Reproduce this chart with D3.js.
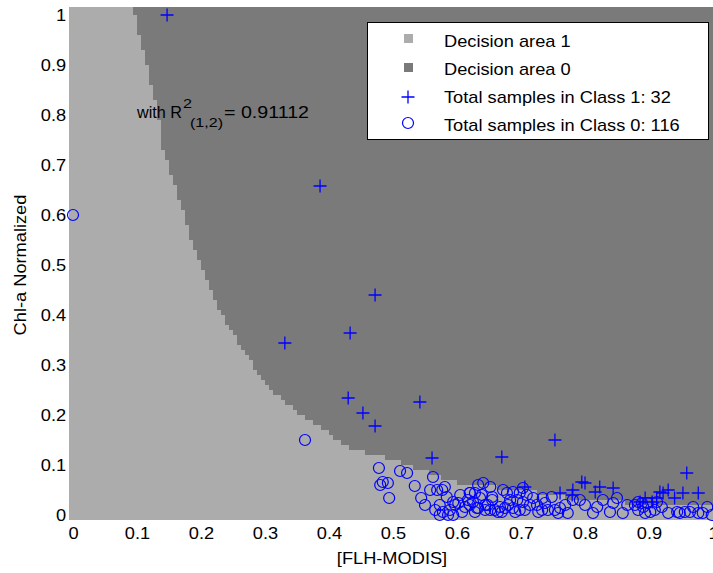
<!DOCTYPE html>
<html>
<head>
<meta charset="utf-8">
<script src="https://cdn.jsdelivr.net/npm/d3@7"></script>
<style>
  body { margin: 0; background: #fff; }
  svg { display: block; }
  text { font-family: Arial, "Liberation Sans", sans-serif; fill: #000; }
</style>
</head>
<body>
<div id="chart"></div>
<script>
// ---- data ----

// boundary between decision area 1 (below/left) and decision area 0 (above/right)
const boundaryX = [0.095, 0.102, 0.109, 0.117, 0.123, 0.130, 0.136, 0.141, 0.148, 0.155, 0.167, 0.175,
    0.1875, 0.2016, 0.214, 0.2266, 0.24, 0.256, 0.273, 0.292, 0.3125, 0.328, 0.347, 0.37, 0.394,
    0.414, 0.44, 0.5, 0.553, 0.584, 0.62, 0.703, 0.792, 0.878, 1.0];
const boundaryY = [1.016, 0.97, 0.936, 0.896, 0.85, 0.816, 0.776, 0.73, 0.71, 0.674, 0.624, 0.596,
    0.536, 0.496, 0.45, 0.416, 0.384, 0.35, 0.316, 0.276, 0.244, 0.23, 0.21, 0.19, 0.17,
    0.146, 0.13, 0.11, 0.086, 0.07, 0.06, 0.05, 0.03, 0.024, 0.02];

// class 1 samples (plus markers)
const class1X = [0.147, 0.386, 0.472, 0.433, 0.331, 0.43, 0.453, 0.472, 0.542, 0.561, 0.753, 0.67,
    0.706, 0.761, 0.781, 0.795, 0.8, 0.823, 0.959, 0.894, 0.917, 0.922, 0.94, 0.953, 0.977,
    0.905, 0.912, 0.886, 0.844, 0.816, 0.78, 0.93];
const class1Y = [1.0, 0.658, 0.44, 0.364, 0.344, 0.234, 0.204, 0.178, 0.226, 0.114, 0.15, 0.116,
    0.056, 0.044, 0.05, 0.066, 0.064, 0.056, 0.084, 0.034, 0.046, 0.044, 0.034, 0.044, 0.044,
    0.026, 0.034, 0.026, 0.054, 0.046, 0.04, 0.05];

// class 0 samples (circle markers)
const class0X = [0, 0.3625,
    0.478, 0.511, 0.522, 0.484, 0.492, 0.480, 0.494, 0.534, 0.5625, 0.544, 0.558, 0.569, 0.577, 0.581,
    0.573, 0.566, 0.578, 0.589, 0.594, 0.605, 0.602, 0.620, 0.625, 0.633, 0.633, 0.586, 0.573, 0.594,
    0.641, 0.652, 0.628, 0.636, 0.620, 0.631, 0.644, 0.652, 0.659, 0.667, 0.672, 0.678, 0.6875, 0.698,
    0.703, 0.683, 0.694, 0.703, 0.675, 0.6875, 0.698, 0.706, 0.719, 0.734, 0.725, 0.733, 0.742, 0.753,
    0.761, 0.773, 0.781, 0.664, 0.644, 0.620,
    0.792, 0.8125, 0.828, 0.844, 0.85, 0.859, 0.883, 0.883, 0.891, 0.898, 0.902, 0.9125, 0.920, 0.944,
    0.948, 0.956, 0.964, 0.977, 0.991, 0.998, 0.889, 0.878,
    0.597, 0.608, 0.617, 0.628, 0.639, 0.648, 0.655, 0.670, 0.680, 0.691, 0.709, 0.714, 0.727, 0.7375,
    0.748, 0.758, 0.769, 0.8, 0.819, 0.839, 0.866, 0.894, 0.909, 0.930, 0.969, 0.984, 0.584, 0.55,
    0.6125, 0.655];
const class0Y = [0.6, 0.15,
    0.094, 0.088, 0.084, 0.066, 0.064, 0.06, 0.034, 0.058, 0.076, 0.034, 0.05, 0.05, 0.05, 0.056,
    0.02, 0.01, 0.006, 0.01, 0.026, 0.04, 0.024, 0.044, 0.026, 0.014, 0.06, 0.0, 0.0, 0.0,
    0.064, 0.056, 0.044, 0.034, 0.02, 0.014, 0.01, 0.01, 0.01, 0.016, 0.05, 0.044, 0.046, 0.044,
    0.054, 0.03, 0.03, 0.026, 0.014, 0.014, 0.01, 0.01, 0.034, 0.034, 0.02, 0.01, 0.01, 0.01,
    0.014, 0.004, 0.03, 0.006, 0.02, 0.044,
    0.03, 0.004, 0.03, 0.024, 0.034, 0.004, 0.026, 0.01, 0.016, 0.024, 0.006, 0.026, 0.016, 0.006,
    0.004, 0.006, 0.006, 0.004, 0.016, 0.0, 0.024, 0.02,
    0.02, 0.006, 0.03, 0.006, 0.04, 0.02, 0.03, 0.006, 0.02, 0.006, 0.04, 0.02, 0.006, 0.024,
    0.036, 0.004, 0.02, 0.02, 0.016, 0.006, 0.02, 0.004, 0.01, 0.004, 0.016, 0.004, 0.036, 0.02,
    0.016, 0.036];

const xTicks = [0, 0.1, 0.2, 0.3, 0.4, 0.5, 0.6, 0.7, 0.8, 0.9, 1];
const xTickLabels = ["0", "0.1", "0.2", "0.3", "0.4", "0.5", "0.6", "0.7", "0.8", "0.9", "1"];
const yTicks = [0, 0.1, 0.2, 0.3, 0.4, 0.5, 0.6, 0.7, 0.8, 0.9, 1];
const yTickLabels = ["0", "0.1", "0.2", "0.3", "0.4", "0.5", "0.6", "0.7", "0.8", "0.9", "1"];

const legendLabels = ["Decision area 1", "Decision area 0",
    "Total samples in Class 1: 32", "Total samples in Class 0: 116"];

// ---- layout ----
const width = 713, height = 573;
const lightGray = "#acacac", darkGray = "#7a7a7a", blue = "#0000ff";
const stretch = 1.14; // text in the figure is a bit wide

// decision grid extents / cell size (data units)
const gridX0 = -0.00625, gridX1 = 1.0, gridY0 = -0.01, gridY1 = 1.016;
const cellX = 0.00625, cellY = 0.01;

const svg = d3.select("#chart").append("svg")
    .attr("width", width)
    .attr("height", height);

const x = d3.scaleLinear().domain([0, 1]).range([73, 713]);
const y = d3.scaleLinear().domain([0, 1]).range([515, 15]);

// boundary as a piecewise linear function of x
const boundary = d3.scaleLinear().domain(boundaryX).range(boundaryY).clamp(true);

// decision area 1 (background)
svg.append("rect")
    .attr("x", x(gridX0))
    .attr("y", y(gridY1))
    .attr("width", x(gridX1) - x(gridX0))
    .attr("height", y(gridY0) - y(gridY1))
    .attr("fill", lightGray);

// decision area 0, rasterised on the grid so it keeps the stepped edge
const cols = [];
for (let cx = gridX0; cx < gridX1 - 1e-9; cx += cellX) {
    let centre = cx + cellX / 2;
    if (centre < boundaryX[0]) continue;
    let yb = boundary(centre);
    let k = Math.ceil((yb - gridY0) / cellY - 0.5);
    let bottom = Math.max(gridY0, gridY0 + k * cellY);
    cols.push({x0: cx, x1: cx + cellX, bottom: bottom});
}

svg.append("g")
    .attr("shape-rendering", "crispEdges")
    .selectAll("rect")
    .data(cols)
    .enter().append("rect")
    .attr("x", d => x(d.x0))
    .attr("y", y(gridY1))
    .attr("width", d => x(d.x1) - x(d.x0) + 0.5)
    .attr("height", d => Math.max(0, y(d.bottom) - y(gridY1)))
    .attr("fill", darkGray);

// axes (no ticks or domain line, labels only)
const xAxis = d3.axisBottom(x)
    .tickValues(xTicks)
    .tickFormat((d, i) => xTickLabels[i])
    .tickSize(0)
    .tickPadding(12.6);

const yAxis = d3.axisLeft(y)
    .tickValues(yTicks)
    .tickFormat((d, i) => yTickLabels[i])
    .tickSize(0)
    .tickPadding(6);

svg.append("g")
    .attr("class", "x-axis")
    .attr("transform", `translate(0,${y(0)})`)
    .call(xAxis);

svg.append("g")
    .attr("class", "y-axis")
    .attr("transform", `translate(${x(0)},0)`)
    .call(yAxis);

svg.selectAll(".x-axis .domain, .y-axis .domain").remove();
svg.selectAll(".x-axis text, .y-axis text")
    .attr("font-size", 16)
    .attr("font-family", "Arial, 'Liberation Sans', sans-serif")
    .attr("fill", "#000")
    .attr("transform", `scale(${stretch},1)`);

// axis titles
svg.append("text")
    .attr("transform", `translate(392,564) scale(${stretch},1)`)
    .attr("text-anchor", "middle")
    .attr("font-size", 16)
    .text("[FLH-MODIS]");

svg.append("text")
    .attr("transform", `translate(26,265) rotate(-90) scale(${stretch},1)`)
    .attr("text-anchor", "middle")
    .attr("font-size", 16)
    .text("Chl-a Normalized");

// markers: class 0 circles
const class0 = class0X.map((v, i) => ({x: v, y: class0Y[i]}));
const class1 = class1X.map((v, i) => ({x: v, y: class1Y[i]}));

svg.append("g")
    .selectAll("circle")
    .data(class0)
    .enter().append("circle")
    .attr("cx", d => x(d.x))
    .attr("cy", d => y(d.y))
    .attr("r", 5.5)
    .attr("fill", "none")
    .attr("stroke", blue)
    .attr("stroke-width", 1.2);

// class 1 pluses
function plusPath(s) {
    return `M${-s},0H${s}M0,${-s}V${s}`;
}

svg.append("g")
    .selectAll("path")
    .data(class1)
    .enter().append("path")
    .attr("transform", d => `translate(${x(d.x)},${y(d.y)})`)
    .attr("d", plusPath(6.5))
    .attr("fill", "none")
    .attr("stroke", blue)
    .attr("stroke-width", 1.3);

// R^2 annotation
const note = svg.append("g").attr("class", "note");
note.append("text").attr("x", 137).attr("y", 118).attr("font-size", 16)
    .attr("textLength", 45).attr("lengthAdjust", "spacingAndGlyphs").text("with R");
note.append("text").attr("x", 183).attr("y", 108).attr("font-size", 13)
    .attr("textLength", 9).attr("lengthAdjust", "spacingAndGlyphs").text("2");
note.append("text").attr("x", 190).attr("y", 127).attr("font-size", 13)
    .attr("textLength", 33).attr("lengthAdjust", "spacingAndGlyphs").text("(1,2)");
note.append("text").attr("x", 224).attr("y", 118).attr("font-size", 16)
    .attr("textLength", 85).attr("lengthAdjust", "spacingAndGlyphs").text("= 0.91112");

// legend
const legend = svg.append("g").attr("class", "legend");

legend.append("rect")
    .attr("x", 367.5)
    .attr("y", 22.5)
    .attr("width", 341)
    .attr("height", 117)
    .attr("fill", "#fff")
    .attr("stroke", "#000")
    .attr("stroke-width", 1);

const rowY = [47, 75, 103, 131];

legend.append("rect").attr("x", 404).attr("y", rowY[0] - 13).attr("width", 9).attr("height", 9)
    .attr("fill", lightGray);
legend.append("rect").attr("x", 404).attr("y", rowY[1] - 12).attr("width", 9).attr("height", 9)
    .attr("fill", darkGray);
legend.append("path")
    .attr("transform", `translate(408,${rowY[2] - 6})`)
    .attr("d", plusPath(6.5))
    .attr("fill", "none").attr("stroke", blue).attr("stroke-width", 1.3);
legend.append("circle")
    .attr("cx", 408).attr("cy", rowY[3] - 8).attr("r", 5.5)
    .attr("fill", "none").attr("stroke", blue).attr("stroke-width", 1.2);

legend.selectAll(".legend-label")
    .data(legendLabels)
    .enter().append("text")
    .attr("class", "legend-label")
    .attr("transform", (d, i) => `translate(444,${rowY[i]}) scale(${stretch},1)`)
    .attr("font-size", 16)
    .text(d => d);
</script>
</body>
</html>
